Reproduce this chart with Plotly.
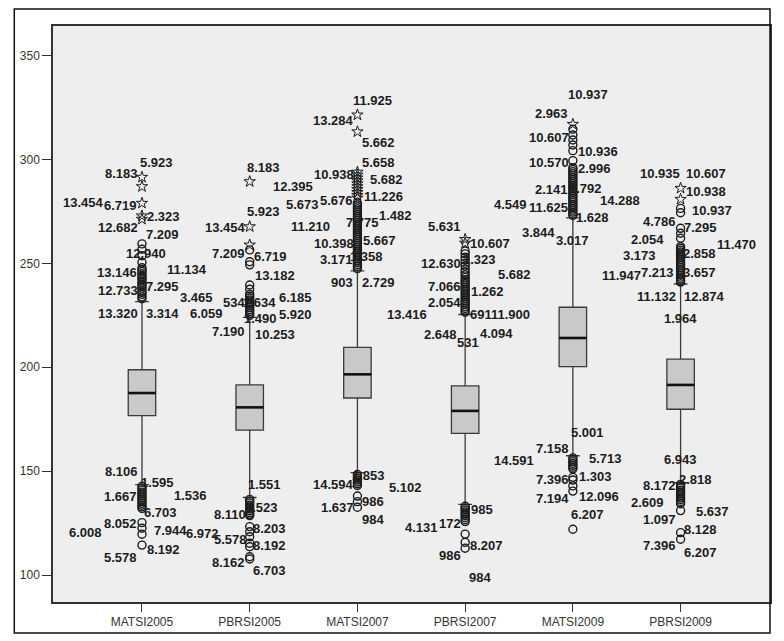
import plotly.graph_objects as go

# ---------------- data ----------------
categories = ["MATSI2005", "PBRSI2005", "MATSI2007", "PBRSI2007", "MATSI2009", "PBRSI2009"]
q1 = [176.7, 169.7, 185.2, 168.2, 200.3, 179.8]
median = [187.6, 180.7, 196.6, 179.0, 214.1, 191.5]
q3 = [198.8, 191.5, 209.6, 191.0, 228.9, 203.9]
lower_whisker = [143.5, 137.3, 149.3, 134.0, 157.4, 144.4]
upper_whisker = [231.6, 224.0, 246.4, 225.4, 271.9, 240.1]

# outliers (circles) and extremes (stars) per variable
outliers_matsi2005 = [259.4, 256.8, 253.7, 250.5, 247.9, 247.0, 246.1, 245.0, 243.8, 243.0, 242.1, 240.9,
                      240.0, 239.1, 238.0, 236.8, 236.0, 235.1, 233.9, 233.0,
                      142.7, 141.8, 140.9, 139.9, 139.0, 138.1, 137.2, 136.2, 135.3, 134.5, 133.6, 132.8,
                      132.0, 125.2, 122.5, 119.6, 114.4]
extremes_matsi2005 = [291.5, 287.0, 279.0, 272.9, 271.3]

outliers_pbrsi2005 = [256.5, 250.8, 249.3, 239.6, 237.6, 235.2, 234.3, 233.3, 232.4, 231.4, 230.5, 229.6,
                      228.7, 227.7, 226.8, 225.9, 225.0,
                      136.4, 135.5, 134.6, 133.6, 132.7, 131.8, 130.9, 130.0, 129.2, 128.6,
                      123.3, 120.8, 118.4, 115.3, 113.6, 108.8, 107.7]
extremes_pbrsi2005 = [289.4, 267.7, 258.9]

outliers_matsi2007 = [279.1, 278.2, 277.3, 276.3, 275.4, 274.5, 273.5, 272.6, 271.7, 270.8, 269.8, 268.9,
                      268.0, 267.0, 266.1, 265.2, 264.3, 263.3, 262.4, 261.5, 260.5, 259.6, 258.7, 257.8,
                      256.8, 255.9, 255.0, 254.0, 253.1, 252.2, 251.3, 250.3, 249.4, 248.5, 247.5,
                      148.4, 147.5, 146.6, 145.7, 144.8, 143.9, 143.1, 138.0, 135.3, 132.6]
extremes_matsi2007 = [321.5, 313.4, 294.0, 292.6, 291.2, 289.8, 288.4, 287.0, 285.6, 284.2, 282.8, 281.5]

outliers_pbrsi2007 = [256.0, 254.6, 253.0, 251.6, 250.0, 248.7, 247.2, 245.8, 244.5, 243.3, 242.2, 241.3,
                      240.4, 239.5, 238.5, 237.6, 236.7, 235.7, 234.8, 233.9, 233.0, 232.0, 231.1, 230.2,
                      229.2, 228.3, 227.4, 226.5,
                      133.1, 132.2, 131.3, 130.3, 129.4, 128.5, 127.6, 126.6, 125.7, 119.7, 115.7, 112.9]
extremes_pbrsi2007 = [261.6, 259.8]

outliers_matsi2009 = [314.6, 311.8, 309.4, 307.0, 304.3, 299.5, 296.1, 295.2, 294.2, 293.3, 292.4, 291.4,
                      290.5, 289.6, 288.6, 287.7, 286.8, 285.9, 284.9, 284.0, 283.1, 282.1, 281.2, 280.3,
                      279.4, 278.4, 277.5, 276.6, 275.6, 274.7, 273.8, 273.1,
                      156.4, 155.5, 154.6, 153.7, 152.8, 151.9, 151.1, 147.0, 145.7, 142.9, 140.4, 122.0]
extremes_matsi2009 = [317.0]

outliers_pbrsi2009 = [276.5, 274.4, 266.9, 264.5, 262.1, 258.1, 257.3, 256.4, 255.5, 254.5, 253.6, 252.7,
                      251.8, 250.8, 249.9, 249.0, 248.0, 247.1, 246.2, 245.3, 244.3, 243.4, 242.5, 241.6,
                      241.0,
                      143.6, 142.7, 141.8, 140.8, 139.9, 139.0, 138.1, 137.1, 136.2, 135.3, 134.3,
                      131.0, 120.4, 117.2]
extremes_pbrsi2009 = [286.2, 280.9]

# case labels (text, value)
labels_matsi2005 = [("5.923", 298.4), ("8.183", 293.1), ("6.719", 278.1), ("13.454", 279.1), ("2.323", 272.4),
                    ("12.682", 267.1), ("7.209", 263.7), ("12.940", 254.6), ("13.146", 245.4), ("11.134", 247.3),
                    ("12.733", 237.2), ("7.295", 239.1), ("3.465", 233.8), ("13.320", 226.1), ("3.314", 225.7),
                    ("6.059", 225.7), ("8.106", 149.6), ("1.595", 144.3), ("1.667", 137.6), ("1.536", 138.5),
                    ("6.703", 130.3), ("8.052", 124.6), ("6.008", 120.7), ("7.944", 121.2), ("6.972", 120.2),
                    ("8.192", 112.5), ("5.578", 108.2)]
labels_pbrsi2005 = [("8.183", 296.0), ("12.395", 286.8), ("5.923", 274.8), ("5.673", 278.6), ("13.454", 267.5),
                    ("11.210", 268.0), ("7.209", 255.0), ("6.719", 253.1), ("13.182", 244.4), ("534", 231.4),
                    ("1.634", 231.4), ("6.185", 233.4), ("1.490", 223.7), ("5.920", 225.2), ("7.190", 217.0),
                    ("10.253", 215.6), ("1.551", 143.8), ("6.523", 132.3), ("8.110", 128.9), ("8.203", 122.6),
                    ("5.578", 116.9), ("8.192", 114.0), ("8.162", 105.8), ("6.703", 102.4)]
labels_matsi2007 = [("11.925", 328.2), ("13.284", 318.6), ("5.662", 308.0), ("5.658", 298.4), ("10.938", 292.6),
                    ("5.682", 290.2), ("5.676", 280.1), ("11.226", 282.0), ("1.482", 273.3), ("7.775", 269.5),
                    ("10.398", 259.8), ("5.667", 260.8), ("3.171", 252.1), ("1.358", 253.1), ("903", 240.6),
                    ("2.729", 240.6), ("1.853", 148.1), ("14.594", 143.8), ("5.102", 141.9), ("986", 135.6),
                    ("1.637", 132.3), ("984", 126.5)]
labels_pbrsi2007 = [("5.631", 268.0), ("10.607", 259.8), ("12.630", 250.2), ("1.323", 251.7), ("5.682", 244.9),
                    ("7.066", 238.7), ("1.262", 236.7), ("2.054", 231.0), ("13.416", 225.2), ("691", 225.2),
                    ("11.900", 225.2), ("2.648", 215.6), ("4.094", 216.5), ("531", 211.7), ("985", 131.3),
                    ("172", 125.0), ("4.131", 123.1), ("8.207", 114.0), ("986", 109.6), ("984", 99.0)]
labels_matsi2009 = [("10.937", 331.1), ("2.963", 322.4), ("10.607", 310.4), ("10.936", 304.1), ("10.570", 298.4),
                    ("2.996", 295.5), ("2.141", 285.4), ("1.792", 286.3), ("14.288", 280.1), ("4.549", 278.6),
                    ("11.625", 276.7), ("1.628", 271.9), ("3.844", 264.7), ("3.017", 260.8), ("5.001", 168.8),
                    ("7.158", 160.7), ("14.591", 154.9), ("5.713", 156.3), ("7.396", 146.2), ("1.303", 147.2),
                    ("7.194", 136.6), ("12.096", 137.6), ("6.207", 128.9)]
labels_pbrsi2009 = [("10.935", 293.5), ("10.607", 293.5), ("10.938", 284.4), ("10.937", 275.3), ("4.786", 270.0),
                    ("7.295", 267.1), ("2.054", 261.3), ("11.470", 258.9), ("2.858", 254.6), ("3.173", 253.6),
                    ("11.947", 244.0), ("7.213", 245.4), ("3.657", 245.4), ("11.132", 234.3), ("12.874", 234.3),
                    ("1.964", 223.7), ("6.943", 155.4), ("2.818", 146.2), ("8.172", 143.3), ("2.609", 134.7),
                    ("5.637", 130.8), ("1.097", 126.5), ("8.128", 122.1), ("7.396", 114.4), ("6.207", 110.6)]

# ---------------- layout: horizontal label offsets (px) ----------------
dx_matsi2005 = [15, -20, -21, -58, 22, -24, 21, 4, -25, 45, -24, 21, 55, -24, 21, 65,
                -20, 16, -21, 49, 19, -21, -56, 29, 61, 22, -21]
dx_pbrsi2005 = [14, 43, 14, 53, -24, 61, -21, 21, 25, -16, 10, 46, 11, 46, -21, 25,
                15, 12, -20, 20, -19, 20, -21, 20]
dx_matsi2007 = [15, -24, 21, 21, -23, 29, -21, 26, 38, 5, -23, 22, -21, 9, -15, 21,
                11, -24, 48, 16, -20, 16]
dx_pbrsi2007 = [-21, 25, -24, 14, 49, -21, 22, -21, -58, 16, 45, -25, 31, 3,
                17, -15, -44, 21, -15, 15]
dx_matsi2009 = [15, -21, -24, 25, -24, 22, -21, 13, 47, -62, -24, 20, -34, 0,
                15, -20, -59, 33, -20, 23, -20, 26, 15]
dx_pbrsi2009 = [-21, 25, 25, 31, -21, 20, -33, 56, 19, -41, -59, -23, 19, -24, 24, 0,
                0, 15, -21, -33, 32, -21, 20, -21, 20]

outliers_all = [outliers_matsi2005, outliers_pbrsi2005, outliers_matsi2007,
                outliers_pbrsi2007, outliers_matsi2009, outliers_pbrsi2009]
extremes_all = [extremes_matsi2005, extremes_pbrsi2005, extremes_matsi2007,
                extremes_pbrsi2007, extremes_matsi2009, extremes_pbrsi2009]
labels_all = [labels_matsi2005, labels_pbrsi2005, labels_matsi2007,
              labels_pbrsi2007, labels_matsi2009, labels_pbrsi2009]
dx_all = [dx_matsi2005, dx_pbrsi2005, dx_matsi2007, dx_pbrsi2007, dx_matsi2009, dx_pbrsi2009]

BOX_W = 0.255
INK = "#1c1c1c"
pos = list(range(len(categories)))

fig = go.Figure()
fig.add_trace(go.Box(
    x=pos, q1=q1, median=median, q3=q3,
    lowerfence=lower_whisker, upperfence=upper_whisker,
    width=BOX_W, whiskerwidth=0.5, boxpoints=False,
    fillcolor="#c9c9c9", line=dict(color="#3a3a3a", width=1.3),
    hoverinfo="skip", showlegend=False))

# thicker median lines
mx, my = [], []
for i, m in enumerate(median):
    mx += [i - BOX_W / 2, i + BOX_W / 2, None]
    my += [m, m, None]
fig.add_trace(go.Scatter(x=mx, y=my, mode="lines", line=dict(color="#111111", width=2.6),
                         hoverinfo="skip", showlegend=False))

for i in pos:
    fig.add_trace(go.Scatter(
        x=[i] * len(outliers_all[i]), y=outliers_all[i], mode="markers",
        marker=dict(symbol="circle-open", size=8, color=INK, line=dict(width=1.4, color=INK)),
        hoverinfo="skip", showlegend=False))
    fig.add_trace(go.Scatter(
        x=[i] * len(extremes_all[i]), y=extremes_all[i], mode="markers",
        marker=dict(symbol="star-open", size=8.5, color=INK, line=dict(width=1.0, color=INK)),
        hoverinfo="skip", showlegend=False))

annotations = []
for i in pos:
    for (txt, val), dx in zip(labels_all[i], dx_all[i]):
        annotations.append(dict(
            x=i, y=val, xref="x", yref="y", text=txt, showarrow=False,
            xanchor="center", yanchor="middle", xshift=dx,
            font=dict(family="Liberation Sans, Arial, sans-serif", size=13, color=INK, weight="bold")))

# the page body adds an 8px margin, so the figure is sized to fit inside the window
fig.update_layout(
    width=776, height=633,
    margin=dict(l=40, r=13, t=18, b=39),
    paper_bgcolor="white", plot_bgcolor="#eeeeee",
    annotations=annotations,
    showlegend=False,
    font=dict(family="Liberation Sans, Arial, sans-serif", size=12, color="#333333"),
    shapes=[dict(type="rect", xref="paper", yref="paper", x0=-0.054, x1=1.0, y0=-0.0538, y1=1.0295,
                 line=dict(color="#111111", width=1.5), fillcolor="rgba(0,0,0,0)", layer="above")],
)
fig.update_xaxes(range=[-0.826, 5.83], tickmode="array", tickvals=pos, ticktext=categories,
                 showgrid=False, zeroline=False, showline=True, mirror=True,
                 linecolor="#333333", linewidth=1.5, ticks="outside", ticklen=8,
                 tickcolor="#333333", tickfont=dict(size=12, color="#333333"))
fig.update_yaxes(range=[87.0, 364.3], tickmode="array", tickvals=[100, 150, 200, 250, 300, 350],
                 showgrid=False, zeroline=False, showline=True, mirror=True,
                 linecolor="#333333", linewidth=1.5, ticks="outside", ticklen=9,
                 tickcolor="#333333", tickfont=dict(size=12, color="#333333"))

fig.write_html("out.html")
